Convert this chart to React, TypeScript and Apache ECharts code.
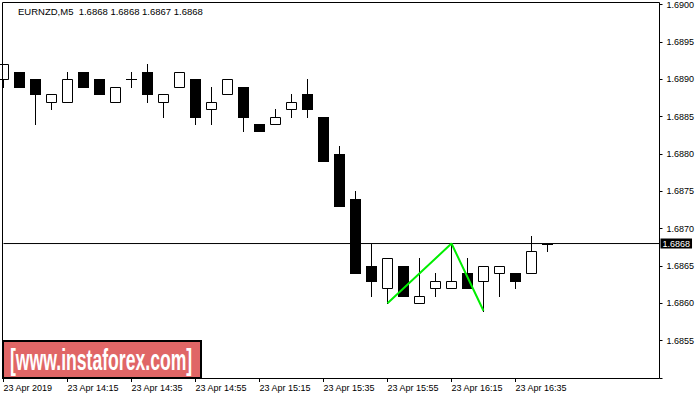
import React, { useEffect, useRef } from "react";
import * as echarts from "echarts";

const symbolTitle = "EURNZD,M5  1.6868 1.6868 1.6867 1.6868";
const dateLabel = "23 Apr 2019";
const dayPrefix = "23 Apr ";
const times = [
  "13:55", "14:00", "14:05", "14:10", "14:15", "14:20", "14:25", "14:30", "14:35", "14:40",
  "14:45", "14:50", "14:55", "15:00", "15:05", "15:10", "15:15", "15:20", "15:25", "15:30",
  "15:35", "15:40", "15:45", "15:50", "15:55", "16:00", "16:05", "16:10", "16:15", "16:20",
  "16:25", "16:30", "16:35", "16:40", "16:45",
];
const opens = [
  1.6890, 1.6891, 1.6890, 1.6887, 1.6887, 1.6891, 1.6890, 1.6887, 1.6890, 1.6891,
  1.6887, 1.6889, 1.6890, 1.6886, 1.6888, 1.6889, 1.6884, 1.6884, 1.6886, 1.6888,
  1.6885, 1.6880, 1.6874, 1.6865, 1.6862, 1.6865, 1.6860, 1.6862, 1.6862, 1.6864,
  1.6863, 1.6864, 1.6864, 1.6864, 1.6868,
];
const closes = [
  1.6892, 1.6889, 1.6888, 1.6888, 1.6890, 1.6889, 1.6888, 1.6889, 1.6890, 1.6888,
  1.6888, 1.6891, 1.6885, 1.6887, 1.6890, 1.6885, 1.6883, 1.6885, 1.6887, 1.6886,
  1.6879, 1.6873, 1.6864, 1.6863, 1.6866, 1.6861, 1.6861, 1.6863, 1.6863, 1.6862,
  1.6865, 1.6865, 1.6863, 1.6867, 1.6868,
];
const lows = [
  1.6889, 1.6889, 1.6884, 1.6886, 1.6887, 1.6889, 1.6888, 1.6887, 1.6889, 1.6887,
  1.6885, 1.6889, 1.6884, 1.6884, 1.6888, 1.6883, 1.6883, 1.6884, 1.6885, 1.6885,
  1.6879, 1.6873, 1.6864, 1.6861, 1.6860, 1.6861, 1.6860, 1.6861, 1.6862, 1.6862,
  1.6859, 1.6861, 1.6862, 1.6864, 1.6867,
];
const highs = [
  1.6892, 1.6891, 1.6890, 1.6888, 1.6891, 1.6891, 1.6890, 1.6889, 1.6891, 1.6892,
  1.6888, 1.6891, 1.6890, 1.6889, 1.6890, 1.6889, 1.6884, 1.6886, 1.6888, 1.6890,
  1.6885, 1.6881, 1.6875, 1.6868, 1.6866, 1.6865, 1.6866, 1.6864, 1.6868, 1.6866,
  1.6865, 1.6865, 1.6864, 1.6869, 1.6868,
];
const zigzagIdx = [24, 28, 30];
const zigzagVal = [1.6860, 1.6868, 1.6859];
const currentPrice = 1.6868;
const yMin = 1.685;
const yMax = 1.69;
const yStep = 0.0005;
const emptySlots = 7;
const labelEvery = 4;
const lastLabelIdx = 32;
const logoText = "[www.instaforex.com]";

const FONT = "'Liberation Sans', Arial, sans-serif";

export default function App() {
  const ref = useRef<HTMLDivElement>(null);
  useEffect(() => {
    if (!ref.current) return;
    const chart = echarts.init(ref.current, null, { renderer: "svg" });
    const categories = [...times, ...Array(emptySlots).fill("")];
    const candleData = times.map((_, i) => [i, opens[i], closes[i], lows[i], highs[i]]);
    const showIdx = (i: number) => i % labelEvery === 0 && i <= lastLabelIdx;

    const renderItem = (params: any, api: any) => {
      const i = api.value(0);
      const o = api.value(1);
      const c = api.value(2);
      const l = api.value(3);
      const h = api.value(4);
      const cx = api.coord([i, o])[0];
      const yO = Math.round(api.coord([i, o])[1]);
      const yC = Math.round(api.coord([i, c])[1]);
      const yL = Math.round(api.coord([i, l])[1]);
      const yH = Math.round(api.coord([i, h])[1]);
      const top = Math.min(yO, yC);
      const bot = Math.max(yO, yC);
      const children: any[] = [
        {
          type: "line",
          shape: { x1: cx, y1: yH, x2: cx, y2: yL + 1 },
          style: { stroke: "#000", lineWidth: 1 },
        },
      ];
      if (top === bot) {
        children.push({
          type: "line",
          shape: { x1: cx - 5.5, y1: top + 0.5, x2: cx + 5.5, y2: top + 0.5 },
          style: { stroke: "#000", lineWidth: 1 },
        });
      } else if (c > o) {
        children.push({
          type: "rect",
          shape: { x: cx - 5, y: top + 0.5, width: 10, height: bot - top },
          style: { fill: "#fff", stroke: "#000", lineWidth: 1 },
        });
      } else {
        children.push({
          type: "rect",
          shape: { x: cx - 5.5, y: top, width: 11, height: bot - top + 1 },
          style: { fill: "#000" },
        });
      }
      return { type: "group", children };
    };

    chart.setOption({
      animation: false,
      backgroundColor: "#fff",
      grid: { left: 3.5, right: 40.5, top: 4, bottom: 22, show: false },
      xAxis: {
        type: "category",
        data: categories,
        boundaryGap: false,
        axisLine: { show: false },
        axisTick: {
          show: true,
          interval: (i: number) => showIdx(i),
          length: 4,
          lineStyle: { color: "#000", width: 1 },
        },
        axisLabel: {
          interval: (i: number) => showIdx(i),
          formatter: (v: string, i: number) => (i === 0 ? dateLabel : dayPrefix + v),
          align: "left",
          margin: 5,
          fontSize: 9,
          fontFamily: FONT,
          color: "#000",
        },
        splitLine: { show: false },
      },
      yAxis: {
        type: "value",
        position: "right",
        min: yMin,
        max: yMax,
        interval: yStep,
        splitLine: { show: false },
        axisLine: { show: false },
        axisTick: { show: true, length: 3, lineStyle: { color: "#000" } },
        axisLabel: {
          formatter: (v: number) => (v < yMin + yStep / 10 ? "" : v.toFixed(4)),
          margin: 7,
          fontSize: 9,
          fontFamily: FONT,
          color: "#000",
        },
      },
      series: [
        {
          type: "line",
          data: [
            [0, currentPrice],
            [categories.length - 1, currentPrice],
          ],
          symbol: "none",
          lineStyle: { color: "#000", width: 1 },
          z: 3,
          silent: true,
          endLabel: {
            show: true,
            formatter: currentPrice.toFixed(4),
            distance: 1,
            color: "#fff",
            backgroundColor: "#000",
            padding: [1, 2, 0, 2],
            fontSize: 9,
            fontFamily: FONT,
          },
        },
        {
          type: "custom",
          renderItem,
          data: candleData,
          encode: { x: 0, y: [1, 2, 3, 4] },
          clip: false,
          z: 2,
        },
        {
          type: "line",
          data: zigzagIdx.map((x, k) => [x, zigzagVal[k]]),
          symbol: "none",
          lineStyle: { color: "#00ee00", width: 2 },
          z: 4,
          silent: true,
        },
      ],
      graphic: [
        {
          type: "rect",
          shape: { x: 2.5, y: 2.5, width: 657, height: 376 },
          style: { fill: "none", stroke: "#000", lineWidth: 1 },
          z: 10,
          silent: true,
        },
        {
          type: "text",
          x: 18,
          y: 11,
          style: {
            text: symbolTitle,
            fontSize: 9.5,
            fontFamily: FONT,
            fill: "#000",
            verticalAlign: "middle",
          },
          z: 10,
        },
        {
          type: "rect",
          shape: { x: 3, y: 341, width: 198, height: 37 },
          style: { fill: "#e06666", stroke: "#000", lineWidth: 2 },
          z: 11,
        },
        {
          type: "text",
          x: 10,
          y: 360,
          scaleX: 0.587,
          style: {
            text: logoText,
            fontSize: 30,
            fontWeight: "bold",
            fontFamily: FONT,
            fill: "#fff",
            verticalAlign: "middle",
          },
          z: 12,
        },
      ],
    });
    return () => chart.dispose();
  }, []);
  return (
    <div
      ref={ref}
      style={{ position: "fixed", left: 0, top: 0, width: 700, height: 400 }}
    />
  );
}
